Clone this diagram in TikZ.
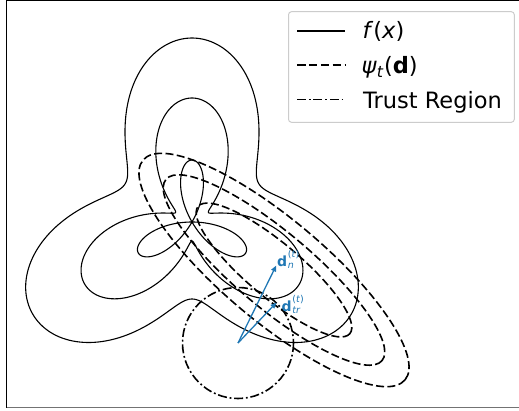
\documentclass[tikz,border=0pt]{standalone}
\usepackage{fontspec}
\setmainfont{DejaVu Sans}
\usetikzlibrary{arrows.meta}
\definecolor{mplblue}{HTML}{1F77B4}
\definecolor{keyedge}{HTML}{CCCCCC}

\begin{document}
\begin{tikzpicture}[x=1pt,y=-1pt,
  fline/.style={line width=1.1pt},
  psiline/.style={line width=1.6pt,dash pattern=on 8pt off 3.4pt},
  trline/.style={line width=1.6pt,dash pattern=on 9pt off 2.8pt on 1.8pt off 2.8pt},
  vec/.style={mplblue,line width=1.3pt,-{Triangle[length=6pt,width=5pt]}},
  keybox/.style={draw=keyedge,fill=white,line width=1pt,rounded corners=3pt,inner sep=0pt},
  keyline/.style={line width=1.7pt},
  keytext/.style={anchor=base west,inner sep=0pt,font=\fontsize{22.5}{27}\selectfont},
  veclabel/.style={anchor=base west,inner sep=0pt,text=mplblue,font=\fontsize{14}{16}\selectfont}]
\path[use as bounding box] (0,0) rectangle (519,410);
% axes
\draw[line width=1.2pt] (6.5,407.5) -- (6.5,0.6) -- (525,0.6);
\draw[line width=1.2pt,black!55] (6.5,407.5) -- (525,407.5);
% level sets of f
\coordinate (o) at (192,222);
\draw[fline,shift={(o)}] plot[variable=\t,domain=0:360,samples=361]
  ({(130.5-53.5*sin(3*\t))*cos(\t)},{-(130.5-53.5*sin(3*\t))*sin(\t)}) -- cycle;
\draw[fline,shift={(o)}] plot[variable=\t,domain=0:360,samples=721]
  ({(71.5-52.5*sin(3*\t))*cos(\t)},{-(71.5-52.5*sin(3*\t))*sin(\t)}) -- cycle;
\draw[fline,shift={(o)}] plot[variable=\t,domain=0:180,samples=361]
  ({-62*sin(3*\t)*cos(\t)},{62*sin(3*\t)*sin(\t)}) -- cycle;
% model psi_t
\coordinate (c) at (274,270);
\foreach \a/\b in {99/27,141/38,171/51}
  \draw[psiline,rotate around={-40:(c)}] (c) ellipse[x radius=\a,y radius=\b];
% trust region and steps
\coordinate (xt) at (238,343);
\draw[trline] (xt) circle[radius=55.5];
\coordinate (dtr) at (276.5,302.5);
\draw[vec,shorten >=-5pt] (xt) -- (c);
\draw[vec] (xt) -- (dtr);
\node[veclabel] (dnlabel) at (277,266.5) {\textbf{d}\hspace{0.6pt}\raisebox{-2.2pt}{\fontsize{9.5}{11.5}\selectfont\begin{tabular}[b]{@{}l@{}}(\textit{t})\\\textit{n}\end{tabular}}};
\node[veclabel] (dtrlabel) at (281.5,311.5) {\textbf{d}\hspace{0.6pt}\raisebox{-2.2pt}{\fontsize{9.5}{11.5}\selectfont\begin{tabular}[b]{@{}l@{}}(\textit{t})\\\textit{tr}\end{tabular}}};
% legend
\node[keybox,minimum width=225.8,minimum height=110.6] (key) at (401.4,67) {};
\draw[keyline] (297,30.7) -- (345,30.7);
\node[keytext] (keyf) at (362.5,38.5) {\textit{f}(\textit{x})};
\draw[keyline,dash pattern=on 8.5pt off 3.4pt] (297,65.3) -- (345,65.3);
\node[keytext] (keypsi) at (361.5,73.3) {\textit{ψ}\textsubscript{\textit{t}}(\textbf{d})};
\draw[keyline,dash pattern=on 9pt off 2.8pt on 1.8pt off 2.8pt] (297,99.5) -- (345,99.5);
\node[keytext] (keytr) at (363,108.3) {Trust Region};
\end{tikzpicture}
\end{document}
